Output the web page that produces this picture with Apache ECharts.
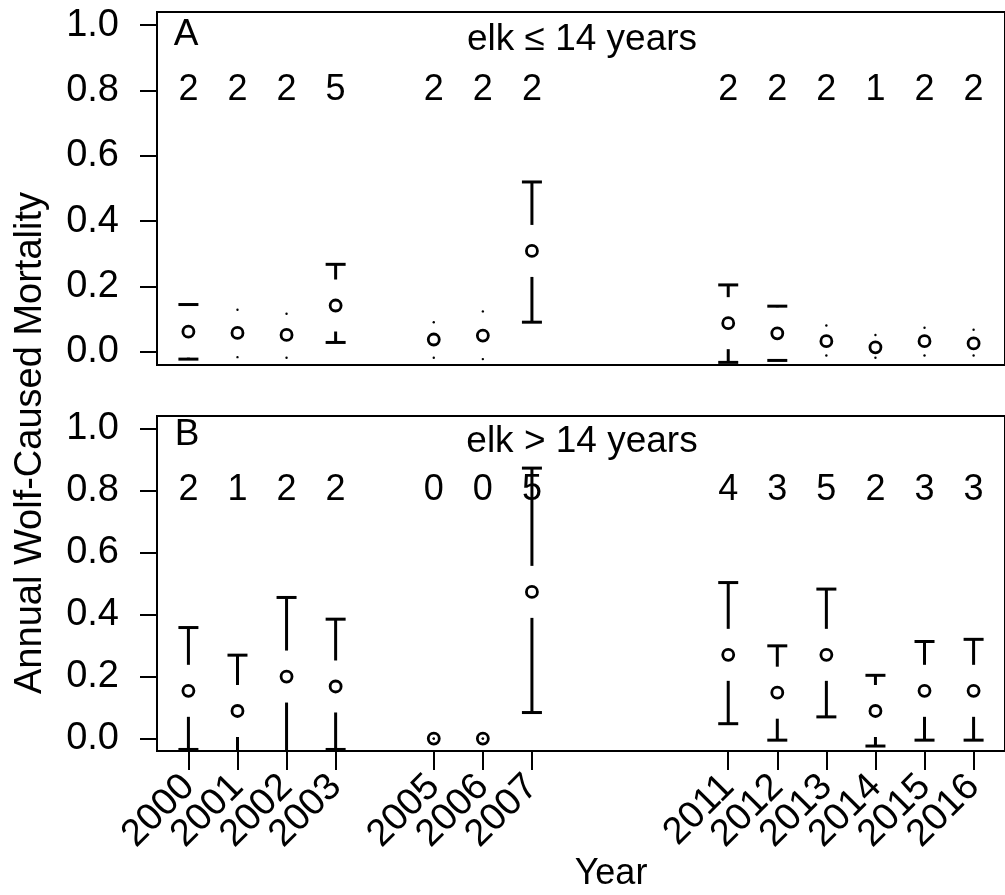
<!DOCTYPE html>
<html>
<head>
<meta charset="utf-8">
<script src="https://cdn.jsdelivr.net/npm/echarts@6/dist/echarts.min.js"></script>
<style>
  html, body { margin: 0; padding: 0; background: #fff; }
  #chart { width: 1005px; height: 895px; }
</style>
</head>
<body>
<div id="chart"></div>
<script>
// years with estimates (2004, 2008-2010 missing)
const years = [2000, 2001, 2002, 2003, 2005, 2006, 2007, 2011, 2012, 2013, 2014, 2015, 2016];
const yTicks = [0, 0.2, 0.4, 0.6, 0.8, 1.0];

// panel A: elk <= 14 years
const meanA = [0.062, 0.058, 0.052, 0.142, 0.038, 0.050, 0.309, 0.088, 0.057, 0.033, 0.014, 0.033, 0.026];
const lowA  = [-0.022, -0.016, -0.018, 0.029, -0.018, -0.022, 0.091, -0.032, -0.026, -0.011, -0.018, -0.011, -0.011];
const upA   = [0.145, 0.129, 0.117, 0.268, 0.091, 0.124, 0.520, 0.205, 0.140, 0.081, 0.052, 0.074, 0.068];
const nA    = [2, 2, 2, 5, 2, 2, 2, 2, 2, 2, 1, 2, 2];

// panel B: elk > 14 years
const meanB = [0.154, 0.089, 0.200, 0.168, 0.0, 0.0, 0.473, 0.270, 0.148, 0.270, 0.089, 0.154, 0.154];
const lowB  = [-0.035, -0.07, -0.07, -0.035, 0, 0, 0.084, 0.048, -0.005, 0.070, -0.024, -0.005, -0.005];
const upB   = [0.358, 0.269, 0.455, 0.385, 0, 0, 0.872, 0.503, 0.299, 0.482, 0.204, 0.313, 0.320];
const nB    = [2, 1, 2, 2, 0, 0, 5, 4, 3, 5, 2, 3, 3];

const FONT = "'Liberation Sans', Arial, sans-serif";
const GAP = 26;   // px gap around the point, like plotCI
const CAP = 20;   // cap width px

const chart = echarts.init(document.getElementById("chart"), null, { renderer: "canvas" });

// bars stop short of the point; when the limit is inside the gap only a dot is left
function renderCI(params, api) {
  const x = api.value(0), m = api.value(1), lo = api.value(2), hi = api.value(3);
  const pm = api.coord([x, m]);
  const ph = api.coord([x, hi]);
  const pl = api.coord([x, lo]);
  const cx = pm[0];
  const ink = { stroke: "#000", lineWidth: 3 };
  const seg = (x1, y1, x2, y2) => ({ type: "line", shape: { x1, y1, x2, y2 }, style: ink });
  const dot = (y) => ({ type: "circle", shape: { cx, cy: y, r: 1.2 }, style: { fill: "#000" } });
  const kids = [];
  const topEnd = pm[1] - GAP;
  if (ph[1] < topEnd) {
    kids.push(seg(cx, ph[1], cx, topEnd));
    kids.push(seg(cx - CAP / 2, ph[1], cx + CAP / 2, ph[1]));
  } else {
    kids.push(dot(ph[1]));
  }
  const botEnd = pm[1] + GAP;
  if (pl[1] > botEnd) {
    kids.push(seg(cx, botEnd, cx, pl[1]));
    kids.push(seg(cx - CAP / 2, pl[1], cx + CAP / 2, pl[1]));
  } else {
    kids.push(dot(pl[1]));
  }
  kids.push({ type: "circle", shape: { cx, cy: pm[1], r: 5.5 }, style: { fill: null, stroke: "#000", lineWidth: 2.8 } });
  return { type: "group", children: kids };
}

function yAxisOpt(gi) {
  return {
    type: "value", gridIndex: gi, min: -0.04, max: 1.04,
    axisLine: { show: false, onZero: false },
    splitLine: { show: false },
    axisTick: { show: true, customValues: yTicks, length: 17, lineStyle: { color: "#000", width: 2 } },
    axisLabel: {
      customValues: yTicks, formatter: (v) => v.toFixed(1), margin: 38,
      showMinLabel: true, showMaxLabel: true,
      color: "#000", fontSize: 38, fontFamily: FONT,
    },
  };
}

// the rotated year labels overlap their neighbours, so they are split over two
// stacked bottom axes (alternate years) to keep ECharts from dropping any
function xAxisOpt(gi, ticks) {
  const on = ticks.length > 0;
  return {
    type: "value", gridIndex: gi, min: 1999.36, max: 2016.64, position: "bottom", offset: 0,
    axisLine: { show: false, onZero: false },
    splitLine: { show: false },
    axisTick: { show: on, customValues: ticks, length: 19, lineStyle: { color: "#000", width: 2 } },
    axisLabel: {
      show: on, customValues: ticks, rotate: 45, margin: 30,
      showMinLabel: true, showMaxLabel: true, hideOverlap: false,
      color: "#000", fontSize: 38, fontFamily: FONT, formatter: (v) => String(v),
    },
  };
}
const evenYears = years.filter((y, i) => i % 2 === 0);
const oddYears = years.filter((y, i) => i % 2 === 1);

const ciData = (mean, low, up) => years.map((y, i) => [y, mean[i], low[i], up[i]]);
const nData = (n) => years.map((y, i) => [y, 0.8, n[i]]);

function countSeries(gi, n) {
  return {
    type: "scatter", xAxisIndex: gi, yAxisIndex: gi, symbolSize: 0,
    itemStyle: { color: "rgba(0,0,0,0)" }, silent: true,
    label: {
      show: true, position: "inside", formatter: (p) => String(p.value[2]),
      color: "#000", opacity: 1, fontSize: 36, fontFamily: FONT,
    },
    data: nData(n),
  };
}

const txt = (x, y, s, extra) => ({
  type: "text", x, y,
  style: Object.assign({ text: s, fill: "#000", font: "37px " + FONT, align: "center", verticalAlign: "middle" }, extra || {}),
});

const yLab = txt(31, 443, "Annual Wolf-Caused Mortality", { font: "38px " + FONT });
yLab.rotation = Math.PI / 2;

chart.setOption({
  animation: false,
  backgroundColor: "#fff",
  grid: [
    { left: 157, top: 12, width: 855, height: 353, show: true, borderColor: "#000", borderWidth: 2, backgroundColor: "transparent" },
    { left: 157, top: 416, width: 855, height: 335, show: true, borderColor: "#000", borderWidth: 2, backgroundColor: "transparent" },
  ],
  xAxis: [xAxisOpt(0, []), xAxisOpt(1, evenYears), xAxisOpt(1, oddYears)],
  yAxis: [yAxisOpt(0), yAxisOpt(1)],
  series: [
    { type: "custom", xAxisIndex: 0, yAxisIndex: 0, clip: true, renderItem: renderCI, data: ciData(meanA, lowA, upA) },
    { type: "custom", xAxisIndex: 1, yAxisIndex: 1, clip: true, renderItem: renderCI, data: ciData(meanB, lowB, upB) },
    countSeries(0, nA),
    countSeries(1, nB),
  ],
  graphic: [
    txt(186, 35, "A"),
    txt(582, 40, "elk \u2264 14 years"),
    txt(187, 435, "B"),
    txt(582, 442, "elk > 14 years"),
    txt(611, 874, "Year", { font: "36px " + FONT }),
    yLab,
  ],
});
</script>
</body>
</html>
